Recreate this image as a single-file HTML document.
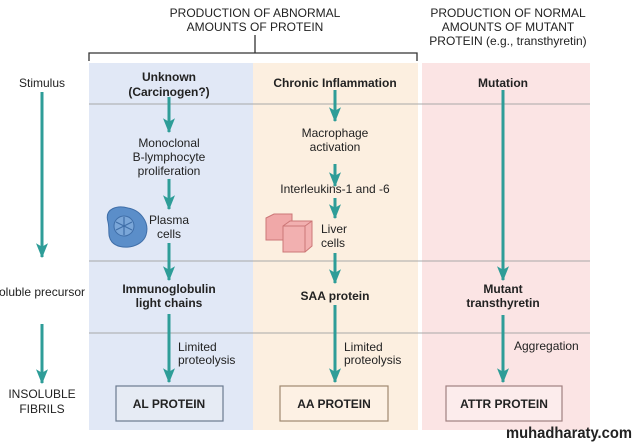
<!DOCTYPE html>
<html><head><meta charset="utf-8"><style>
html,body{margin:0;padding:0;background:#fff;}
svg{display:block;}
text{font-family:"Liberation Sans",Arial,sans-serif;fill:#222;}
.b{font-weight:bold;}
</style></head><body>
<svg width="639" height="445" viewBox="0 0 639 445" xmlns="http://www.w3.org/2000/svg">
<defs>
<marker id="ah" markerWidth="5" markerHeight="4" refX="4.6" refY="2" orient="auto" markerUnits="strokeWidth" viewBox="0 0 5 4">
<path d="M0,0 L1.2,2 L0,4 L5,2 Z" fill="#2e9d98"/>
</marker>
</defs>
<rect x="89" y="63" width="164" height="367" fill="#e1e8f6"/>
<rect x="253" y="63" width="165" height="367" fill="#fcefe0"/>
<rect x="422" y="63" width="168" height="367" fill="#fbe4e4"/>
<g stroke="#a8a8a8" stroke-width="1">
<line x1="89" y1="104" x2="590" y2="104"/>
<line x1="89" y1="261" x2="590" y2="261"/>
<line x1="89" y1="333" x2="590" y2="333"/>
</g>
<g stroke="#333" stroke-width="1.3" fill="none">
<path d="M89,61 V53 H417 V61"/>
<line x1="255" y1="35" x2="255" y2="53"/>
</g>
<g font-size="12" text-anchor="middle">
<text x="255" y="17">PRODUCTION OF ABNORMAL</text>
<text x="255" y="31">AMOUNTS OF PROTEIN</text>
<text x="508" y="17">PRODUCTION OF NORMAL</text>
<text x="508" y="31">AMOUNTS OF MUTANT</text>
<text x="508" y="45">PROTEIN (e.g., transthyretin)</text>
</g>
<g font-size="12" text-anchor="middle">
<text x="42" y="87">Stimulus</text>
<text x="42" y="296">oluble precursor</text>
<text x="42" y="398">INSOLUBLE</text>
<text x="42" y="413">FIBRILS</text>
</g>
<g stroke="#2e9d98" stroke-width="3" marker-end="url(#ah)">
<line x1="42" y1="92" x2="42" y2="257"/>
<line x1="42" y1="324" x2="42" y2="383"/>
<line x1="169" y1="97" x2="169" y2="132"/>
<line x1="169" y1="179" x2="169" y2="209"/>
<line x1="169" y1="243" x2="169" y2="280"/>
<line x1="169" y1="314" x2="169" y2="382"/>
<line x1="335" y1="90" x2="335" y2="121"/>
<line x1="335" y1="164" x2="335" y2="186"/>
<line x1="335" y1="198" x2="335" y2="218"/>
<line x1="335" y1="253" x2="335" y2="283"/>
<line x1="335" y1="305" x2="335" y2="382"/>
<line x1="503" y1="90" x2="503" y2="280"/>
<line x1="503" y1="315" x2="503" y2="382"/>
</g>
<g font-size="12" text-anchor="middle">
<text class="b" x="169" y="81">Unknown</text>
<text class="b" x="169" y="96">(Carcinogen?)</text>
<text x="169" y="147">Monoclonal</text>
<text x="169" y="161">B-lymphocyte</text>
<text x="169" y="175">proliferation</text>
<text x="169" y="224">Plasma</text>
<text x="169" y="238">cells</text>
<text class="b" x="169" y="293">Immunoglobulin</text>
<text class="b" x="169" y="307">light chains</text>
<text x="178" y="351" text-anchor="start">Limited</text>
<text x="178" y="364" text-anchor="start">proteolysis</text>
</g>
<g>
<path d="M108,222 C104,208 118,205 128,208 C140,210 150,222 146,235 C142,248 120,251 112,242 C107,236 110,230 108,222 Z" fill="#5b8ec9" stroke="#3f6ea8" stroke-width="1"/>
<circle cx="124" cy="226" r="10" fill="#7aa6d8" stroke="#3f6ea8" stroke-width="1"/>
<g stroke="#3f6ea8" stroke-width="1.2"><line x1="124" y1="217" x2="124" y2="235"/><line x1="116" y1="222" x2="132" y2="230"/><line x1="116" y1="230" x2="132" y2="222"/></g>
</g>
<g font-size="12" text-anchor="middle">
<text class="b" x="335" y="87">Chronic Inflammation</text>
<text x="335" y="137">Macrophage</text>
<text x="335" y="151">activation</text>
<text x="335" y="193">Interleukins-1 and -6</text>
<text x="321" y="233" text-anchor="start">Liver</text>
<text x="321" y="247" text-anchor="start">cells</text>
<text class="b" x="335" y="300">SAA protein</text>
<text x="344" y="351" text-anchor="start">Limited</text>
<text x="344" y="364" text-anchor="start">proteolysis</text>
</g>
<g stroke="#c77" stroke-width="1">
<path d="M266,218 L274,214 L292,214 L292,236 L284,240 L266,240 Z" fill="#f0a8a8"/>
<path d="M283,226 L290,221 L312,221 L312,246 L305,252 L283,252 Z" fill="#f2b0b0"/>
<path d="M283,226 L305,226 L305,252" fill="none"/>
<path d="M305,226 L312,221" fill="none"/>
</g>
<g font-size="12" text-anchor="middle">
<text class="b" x="503" y="87">Mutation</text>
<text class="b" x="503" y="293">Mutant</text>
<text class="b" x="503" y="307">transthyretin</text>
<text x="514" y="350" text-anchor="start">Aggregation</text>
</g>
<g stroke-width="1.2">
<rect x="116" y="386" width="107" height="35" fill="#e6ebf4" stroke="#6b7a90"/>
<rect x="280" y="386" width="108" height="35" fill="#fdf1e4" stroke="#a08870"/>
<rect x="446" y="386" width="116" height="35" fill="#fcecec" stroke="#a08080"/>
</g>
<g font-size="12" text-anchor="middle">
<text class="b" x="169" y="408">AL PROTEIN</text>
<text class="b" x="334" y="408">AA PROTEIN</text>
<text class="b" x="504" y="408">ATTR PROTEIN</text>
</g>
<text x="506" y="438" font-size="16" font-weight="bold" fill="#111" textLength="126" lengthAdjust="spacingAndGlyphs">muhadharaty.com</text>
</svg>
</body></html>
